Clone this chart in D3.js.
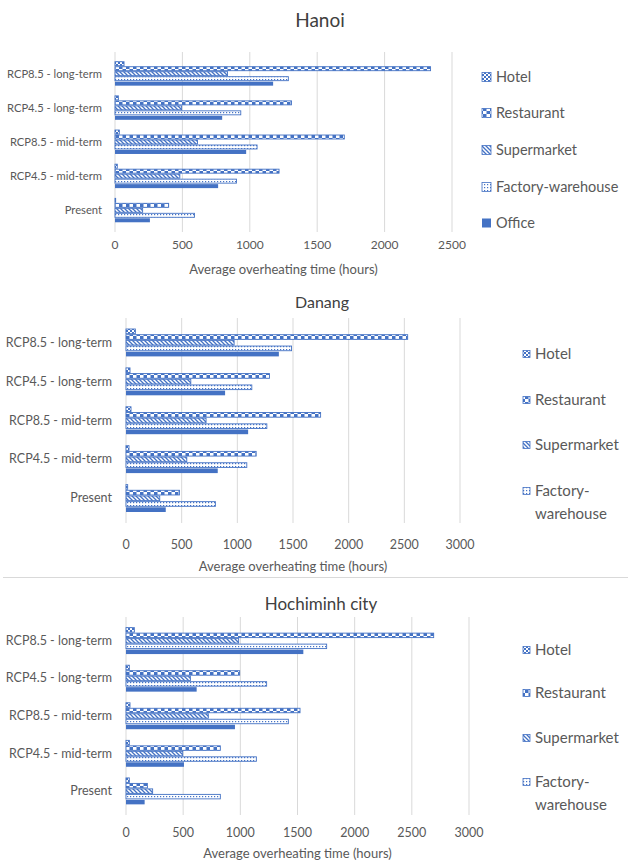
<!DOCTYPE html>
<html>
<head>
<meta charset="utf-8">
<script src="https://cdn.jsdelivr.net/npm/d3@7"></script>
<style>
  body { margin: 0; background: #fff; }
  svg { display: block; font-family: Lato, "Liberation Sans", sans-serif; }
</style>
</head>
<body>
<svg width="628" height="861"></svg>
<script>
// categories top to bottom, series top to bottom within a group
const categories = ["RCP8.5 - long-term", "RCP4.5 - long-term", "RCP8.5 - mid-term", "RCP4.5 - mid-term", "Present"];
const seriesNames = ["Hotel", "Restaurant", "Supermarket", "Factory-warehouse", "Office"];

const hanoiHotel = [67, 25, 32, 17, 5];
const hanoiRestaurant = [2341, 1309, 1701, 1217, 398];
const hanoiSupermarket = [835, 494, 612, 481, 205];
const hanoiFactory = [1286, 933, 1054, 901, 590];
const hanoiOffice = [1173, 795, 973, 765, 259];

const danangHotel = [84, 36, 45, 27, 15];
const danangRestaurant = [2530, 1289, 1748, 1169, 480];
const danangSupermarket = [971, 582, 719, 546, 303];
const danangFactory = [1487, 1130, 1265, 1085, 803];
const danangOffice = [1373, 890, 1097, 824, 357];

const hcmHotel = [73, 29, 35, 29, 29];
const hcmRestaurant = [2691, 994, 1522, 825, 187];
const hcmSupermarket = [985, 563, 720, 496, 233];
const hcmFactory = [1755, 1230, 1420, 1140, 825];
const hcmOffice = [1551, 618, 953, 507, 163];

const hanoiTicks = [0, 500, 1000, 1500, 2000, 2500];
const otherTicks = [0, 500, 1000, 1500, 2000, 2500, 3000];

const blue = "#4472C4";
const grid = "#d9d9d9";
const textCol = "#595959";

const svg = d3.select("svg");
const defs = svg.append("defs");

// excel-like pattern fills
let p = defs.append("pattern").attr("id", "pHotel").attr("patternUnits", "userSpaceOnUse").attr("width", 4).attr("height", 4);
p.append("rect").attr("width", 4).attr("height", 4).attr("fill", "#fff");
p.append("rect").attr("width", 2).attr("height", 2).attr("fill", blue);
p.append("rect").attr("x", 2).attr("y", 2).attr("width", 2).attr("height", 2).attr("fill", blue);

p = defs.append("pattern").attr("id", "pRestaurant").attr("patternUnits", "userSpaceOnUse").attr("width", 7).attr("height", 6);
p.append("rect").attr("width", 7).attr("height", 6).attr("fill", blue);
p.append("rect").attr("x", 3.5).attr("y", 0).attr("width", 3.5).attr("height", 3).attr("fill", "#fff");
p.append("rect").attr("x", 0).attr("y", 3).attr("width", 3.5).attr("height", 3).attr("fill", "#fff");

p = defs.append("pattern").attr("id", "pSupermarket").attr("patternUnits", "userSpaceOnUse").attr("width", 4).attr("height", 4);
p.append("rect").attr("width", 4).attr("height", 4).attr("fill", "#fff");
p.append("path").attr("d", "M-1,-1L5,5M-1,3L1,5M3,-1L5,1").attr("stroke", blue).attr("stroke-width", 1.3);

p = defs.append("pattern").attr("id", "pFactory").attr("patternUnits", "userSpaceOnUse").attr("width", 3).attr("height", 3);
p.append("rect").attr("width", 3).attr("height", 3).attr("fill", "#fff");
p.append("rect").attr("x", 1).attr("y", 1).attr("width", 1.2).attr("height", 1.2).attr("fill", blue);

const fills = {
  "Hotel": "url(#pHotel)",
  "Restaurant": "url(#pRestaurant)",
  "Supermarket": "url(#pSupermarket)",
  "Factory-warehouse": "url(#pFactory)",
  "Office": blue
};

const panels = [
  {
    title: "Hanoi", titleX: 320, titleY: 27, titleSize: 19,
    data: [hanoiHotel, hanoiRestaurant, hanoiSupermarket, hanoiFactory, hanoiOffice],
    ticks: hanoiTicks, x0: 115, x1: 452, y0: 52, y1: 232,
    labelRight: 102, catSize: 11.2, tickSize: 12, tickY: 249, axisTitleY: 274,
    legend: ["Hotel", "Restaurant", "Supermarket", "Factory-warehouse", "Office"],
    legendX: 482, legendY: [77, 113, 150, 187, 223], legendSize: 14.5, markSize: 9
  },
  {
    title: "Danang", titleX: 322, titleY: 308, titleSize: 16,
    data: [danangHotel, danangRestaurant, danangSupermarket, danangFactory, danangOffice],
    ticks: otherTicks, x0: 126, x1: 460, y0: 318, y1: 523,
    labelRight: 112, catSize: 12.5, tickSize: 12.5, tickY: 549, axisTitleY: 571,
    legend: ["Hotel", "Restaurant", "Supermarket", ["Factory-", "warehouse"]],
    legendX: 523, legendY: [354, 400, 445, 491], legendSize: 15, markSize: 7
  },
  {
    title: "Hochiminh city", titleX: 321, titleY: 610, titleSize: 17,
    data: [hcmHotel, hcmRestaurant, hcmSupermarket, hcmFactory, hcmOffice],
    ticks: otherTicks, x0: 126, x1: 469, y0: 617, y1: 815,
    labelRight: 112, catSize: 12.5, tickSize: 12.5, tickY: 837, axisTitleY: 858,
    legend: ["Hotel", "Restaurant", "Supermarket", ["Factory-", "warehouse"]],
    legendX: 523, legendY: [650, 693, 738, 782], legendSize: 15, markSize: 7
  }
];

panels.forEach(cfg => {
  const g = svg.append("g");
  const x = d3.scaleLinear().domain([0, d3.max(cfg.ticks)]).range([cfg.x0, cfg.x1]);
  const y = d3.scaleBand().domain(categories).range([cfg.y0, cfg.y1]).padding(0.27);
  const ySub = d3.scaleBand().domain(seriesNames).range([0, y.bandwidth()]);

  // gridlines
  g.selectAll(".grid").data(cfg.ticks).enter().append("line")
    .attr("x1", d => x(d)).attr("x2", d => x(d))
    .attr("y1", cfg.y0).attr("y2", cfg.y1)
    .attr("stroke", grid).attr("stroke-width", 1);

  // bars
  seriesNames.forEach((s, si) => {
    g.selectAll(".bar" + si).data(cfg.data[si]).enter().append("rect")
      .attr("x", x(0))
      .attr("y", (d, i) => y(categories[i]) + ySub(s) + 0.5)
      .attr("width", d => Math.max(0.5, x(d) - x(0)))
      .attr("height", ySub.bandwidth() - 1)
      .attr("fill", fills[s])
      .attr("stroke", s === "Office" ? "none" : blue)
      .attr("stroke-width", 0.9);
  });

  // category labels
  g.selectAll(".cat").data(categories).enter().append("text")
    .attr("x", cfg.labelRight)
    .attr("y", d => y(d) + y.bandwidth() / 2 + 4)
    .attr("text-anchor", "end")
    .attr("font-size", cfg.catSize)
    .attr("fill", textCol)
    .text(d => d);

  // tick labels
  g.selectAll(".tick").data(cfg.ticks).enter().append("text")
    .attr("x", d => x(d))
    .attr("y", cfg.tickY)
    .attr("text-anchor", "middle")
    .attr("font-size", cfg.tickSize)
    .attr("fill", textCol)
    .text(d => d);

  g.append("text")
    .attr("x", (cfg.x0 + cfg.x1) / 2)
    .attr("y", cfg.axisTitleY)
    .attr("text-anchor", "middle")
    .attr("font-size", 13)
    .attr("fill", textCol)
    .text("Average overheating time (hours)");

  g.append("text")
    .attr("x", cfg.titleX)
    .attr("y", cfg.titleY)
    .attr("text-anchor", "middle")
    .attr("font-size", cfg.titleSize)
    .attr("fill", "#404040")
    .text(cfg.title);

  // legend
  cfg.legend.forEach((item, i) => {
    const name = Array.isArray(item) ? item.join("") : item;
    const ly = cfg.legendY[i];
    const m = cfg.markSize;
    g.append("rect")
      .attr("x", cfg.legendX).attr("y", ly - m / 2)
      .attr("width", m).attr("height", m)
      .attr("fill", fills[name])
      .attr("stroke", name === "Office" ? "none" : blue)
      .attr("stroke-width", 0.8);
    const t = g.append("text")
      .attr("x", cfg.legendX + m + 5)
      .attr("y", ly + 5)
      .attr("font-size", cfg.legendSize)
      .attr("fill", textCol);
    if (Array.isArray(item)) {
      item.forEach((part, k) => {
        t.append("tspan").attr("x", cfg.legendX + m + 5).attr("dy", k === 0 ? 0 : 23).text(part);
      });
    } else {
      t.text(item);
    }
  });
});

// separator between the Danang and Hochiminh panels
svg.append("line")
  .attr("x1", 3).attr("x2", 628).attr("y1", 577.5).attr("y2", 577.5)
  .attr("stroke", grid).attr("stroke-width", 1);
</script>
</body>
</html>
